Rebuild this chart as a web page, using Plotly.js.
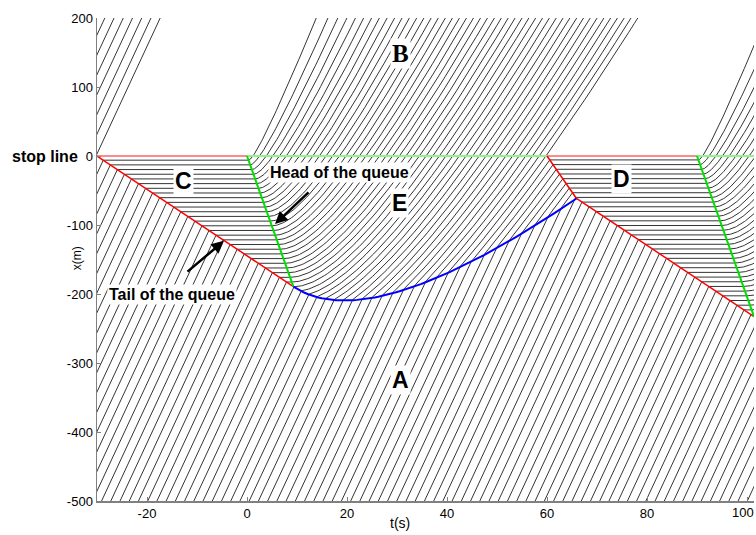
<!DOCTYPE html>
<html>
<head>
<meta charset="utf-8">
<script src="https://cdn.plot.ly/plotly-3.0.1.min.js"></script>
<style>html,body{margin:0;padding:0;background:#fff}</style>
</head>
<body>
<div id="chart" style="width:756px;height:535px"></div>
<script>
// Signal plan at the stop line (x = 0)
const phaseStart = [-30, 0, 60, 90];
const phaseEnd   = [0, 60, 90, 101.4];
const phaseState = ['red', 'green', 'red', 'green'];

// Traffic stream (Greenshields LWR model)
const freeSpeed = 20.4;    // m/s; also the start-up wave speed from a jammed queue
const tailWave  = 4.82;    // m/s; backward speed of the queue tail in the arrival flow
const headway   = 1.845;   // s between arriving vehicles
const firstPass = -30.2;   // s; stop-line passing time of the last vehicle before red
const firstVeh  = -10;
const lastVeh   = 96;

// Axes
const tRange = [-30, 101.4];
const xRange = [-500, 200];
const tTicks = [-20, 0, 20, 40, 60, 80, 100];
const xTicks = [-500, -400, -300, -200, -100, 0, 100, 200];

// Region letters
const regionText = ['A', 'B', 'C', 'D', 'E'];
const regionT    = [30.6, 30.6, -12.8, 74.9, 30.4];
const regionX    = [-325, 149, -36, -33, -68];
const regionFont = ['Liberation Sans', 'Liberation Serif', 'Liberation Sans', 'Liberation Sans', 'Liberation Sans'];

const vf = freeSpeed, w = tailWave, vA = vf - w;
const tR1 = phaseStart[0], tG1 = phaseStart[1], tR2 = phaseStart[2], tG2 = phaseStart[3];
const T_END = 102.5, X_TOP = 206, X_BOT = -506;

// queue tail 1 meets head of queue 1
const t1 = (vf * tG1 - w * tR1) / (vf - w);
const x1 = -vf * (t1 - tG1);
const s1 = t1 - tG1;
// shock between arrivals and the discharge fan (blue)
const bA = vf - 2 * w;
const bD = (x1 - bA * s1) / Math.sqrt(s1);
const blueX = t => { const s = t - tG1; return bA * s + bD * Math.sqrt(s); };
// queue tail 2 starting at the second red, inside the fan
const r2E = vf * Math.sqrt(tR2 - tG1);
const red2X = t => { const s = t - tG1; return -vf * s + r2E * Math.sqrt(s); };
const sqInt = (r2E - bD) / (2 * (vf - w));
const tInt = tG1 + sqInt * sqInt;
const xInt = blueX(tInt);
// queue tail 3 meets head of queue 2
const tMeet = (vf * tG2 - xInt - w * tInt) / (vf - w);
const xMeet = -vf * (tMeet - tG2);

// trajectory inside a fan centred at (tg, 0); ts = start time of the vehicle relative to tg
const fanX = (t, tg, ts) => { const s = t - tg; return vf * (s - 2 * Math.sqrt(ts * s)); };
const fanTop = (tg, ts) => { const u = Math.sqrt(ts) + Math.sqrt(ts + X_TOP / vf); return tg + u * u; };

const TT = [], XX = [];
function push(t, x) { TT.push(t); XX.push(x); }
function fanSeg(tg, ts, tFrom) {
  const tTo = Math.min(T_END, fanTop(tg, ts));
  const N = 60;
  for (let i = 0; i <= N; i++) {
    const t = tFrom + (tTo - tFrom) * (i / N) * (i / N);
    push(t, fanX(t, tg, ts));
  }
}
function queue2(xq) {
  const ts = -xq / vf;
  push(tG2 + ts, xq);
  if (tG2 + ts < T_END) fanSeg(tG2, ts, tG2 + ts);
}

for (let n = firstVeh; n <= lastVeh; n++) {
  const tau = firstPass + n * headway;
  const free = t => vA * (t - tau);
  const tEntry = tau + X_BOT / vA;
  push(tEntry, X_BOT);
  if (tau < tR1) {
    push(tau + X_TOP / vA, X_TOP);
  } else {
    const tq = (vA * tau + w * tR1) / vf;
    if (tq <= t1) {
      // stops in the first queue, released by the start-up wave
      const xq = free(tq);
      const ts = -xq / vf;
      push(tq, xq);
      push(tG1 + ts, xq);
      fanSeg(tG1, ts, tG1 + ts);
    } else if (free(tInt) >= xInt) {
      // meets the discharge flow across the blue shock
      let lo = t1, hi = tInt;
      for (let k = 0; k < 60; k++) {
        const m = 0.5 * (lo + hi);
        if (free(m) - blueX(m) < 0) lo = m; else hi = m;
      }
      const tc = 0.5 * (lo + hi), xc = free(tc), sc = tc - tG1;
      const sqTs = (vf * sc - xc) / (2 * vf * Math.sqrt(sc));
      const ts = sqTs * sqTs;
      push(tc, xc);
      if (4 * ts <= tR2 - tG1) {
        fanSeg(tG1, ts, tc);
      } else {
        const u = (Math.sqrt(tR2 - tG1) + 2 * sqTs) / 2;
        const tStop = tG1 + u * u;
        const N = 40;
        for (let i = 1; i <= N; i++) {
          const t = tc + (tStop - tc) * i / N;
          push(t, fanX(t, tG1, ts));
        }
        queue2(fanX(tStop, tG1, ts));
      }
    } else {
      const tq3 = (vA * tau + xInt + w * tInt) / vf;
      if (tq3 < tMeet) {
        push(tq3, free(tq3));
        queue2(free(tq3));
      } else {
        push(T_END, free(T_END));
      }
    }
  }
  push(null, null);
}

const traces = [];
traces.push({x: TT, y: XX, mode: 'lines', line: {color: '#000', width: 0.8}, hoverinfo: 'skip'});

// stop line coloured by signal state
for (let i = 0; i < phaseStart.length; i++) {
  traces.push({x: [phaseStart[i], phaseEnd[i]], y: [0, 0], mode: 'lines',
    line: {color: phaseState[i] === 'red' ? '#ff8a8a' : '#8cf58c', width: 2.2}, hoverinfo: 'skip'});
}

function curve(f, a, b, n) { const t = [], x = []; for (let i = 0; i <= n; i++) { const u = a + (b - a) * i / n; t.push(u); x.push(f(u)); } return {t, x}; }
// queue tails (red)
traces.push({x: [tR1, t1], y: [0, x1], mode: 'lines', line: {color: '#ff0000', width: 1.5}});
const r2 = curve(red2X, tR2, tInt, 30);
traces.push({x: r2.t, y: r2.x, mode: 'lines', line: {color: '#ff0000', width: 1.5}});
traces.push({x: [tInt, tMeet], y: [xInt, xMeet], mode: 'lines', line: {color: '#ff0000', width: 1.5}});
// queue heads (green)
traces.push({x: [tG1, t1], y: [0, x1], mode: 'lines', line: {color: '#00e000', width: 2}});
traces.push({x: [tG2, tMeet], y: [0, xMeet], mode: 'lines', line: {color: '#00e000', width: 2}});
// arrivals / discharge boundary (blue)
const bl = curve(blueX, t1, tInt, 80);
traces.push({x: bl.t, y: bl.x, mode: 'lines', line: {color: '#0000ff', width: 2}});

const annotations = [];
for (let i = 0; i < regionText.length; i++) {
  annotations.push({x: regionT[i], y: regionX[i], xref: 'x', yref: 'y', text: '<b>' + regionText[i] + '</b>',
    showarrow: false, bgcolor: '#ffffff', borderpad: 1,
    font: {family: regionFont[i], size: regionText[i] === 'B' ? 25 : 23, color: '#000'}});
}
annotations.push({x: 18.5, y: -24, xref: 'x', yref: 'y', text: '<b>Head of the queue</b>', showarrow: false,
  bgcolor: '#ffffff', borderpad: 1, font: {family: 'Liberation Sans', size: 16, color: '#000'}});
annotations.push({x: -15, y: -201, xref: 'x', yref: 'y', text: '<b>Tail of the queue</b>', showarrow: false,
  bgcolor: '#ffffff', borderpad: 1, font: {family: 'Liberation Sans', size: 16, color: '#000'}});
annotations.push({x: 5.6, y: -98.6, xref: 'x', yref: 'y', text: '', showarrow: true, arrowhead: 2, arrowsize: 1,
  arrowwidth: 2.5, arrowcolor: '#000', ax: 35, ay: -33});
annotations.push({x: -4.6, y: -123, xref: 'x', yref: 'y', text: '', showarrow: true, arrowhead: 2, arrowsize: 1,
  arrowwidth: 2.5, arrowcolor: '#000', ax: -38, ay: 32});
annotations.push({x: -0.026, y: 0, xref: 'paper', yref: 'y', xanchor: 'right', yanchor: 'middle', text: '<b>stop line</b>', showarrow: false,
  font: {family: 'Liberation Sans', size: 16, color: '#000'}});
annotations.push({x: -0.0304, y: -148, xref: 'paper', yref: 'y', xanchor: 'center', yanchor: 'middle', text: 'x(m)', textangle: -90, showarrow: false,
  font: {family: 'Liberation Sans', size: 12, color: '#000'}});
annotations.push({x: 30.6, y: -0.0455, xref: 'x', yref: 'paper', xanchor: 'center', yanchor: 'middle', text: 't(s)', showarrow: false,
  font: {family: 'Liberation Sans', size: 14, color: '#000'}});
// last time label sits flush against the right edge of the figure
const lastTick = tTicks[tTicks.length - 1];
annotations.push({x: 1.0015, y: -0.0248, xref: 'paper', yref: 'paper', xanchor: 'right', yanchor: 'middle',
  text: String(lastTick), showarrow: false, borderpad: 0,
  font: {family: 'Liberation Sans', size: 13, color: '#000'}});

const axisCommon = {showgrid: false, zeroline: false, showline: true, linecolor: '#808080', linewidth: 1.5,
  ticks: 'inside', ticklen: 4, tickcolor: '#808080', tickwidth: 1,
  tickfont: {family: 'Liberation Sans', size: 13, color: '#000'}};

const layout = {
  width: 756, height: 535,
  margin: {l: 97, r: 2, t: 18, b: 34},
  paper_bgcolor: '#ffffff', plot_bgcolor: '#ffffff',
  showlegend: false,
  xaxis: Object.assign({}, axisCommon, {range: tRange, tickvals: tTicks,
    ticktext: tTicks.map(v => v === lastTick ? '' : String(v))}),
  yaxis: Object.assign({}, axisCommon, {range: xRange, tickvals: xTicks, ticktext: xTicks.map(String)}),
  annotations: annotations
};

Plotly.newPlot('chart', traces, layout, {displayModeBar: false, staticPlot: true});
</script>
</body>
</html>
